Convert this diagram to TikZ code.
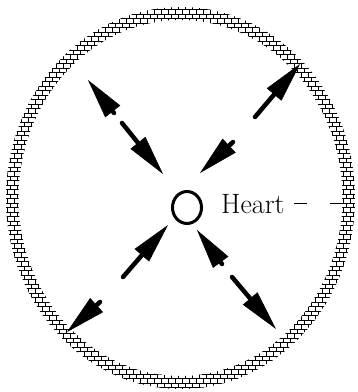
\documentclass[tikz,border=0pt]{standalone}
\usepackage{tikz}
\usetikzlibrary{arrows.meta,positioning,shapes.geometric,patterns,calc}

% small wall bricks for the ring
\pgfdeclarepatternformonly{brickwall}{\pgfqpoint{-1pt}{-1pt}}{\pgfqpoint{8pt}{10pt}}{\pgfqpoint{7pt}{9pt}}{
  \pgfsetlinewidth{0.9pt}
  \pgfpathmoveto{\pgfqpoint{-1pt}{0pt}}\pgfpathlineto{\pgfqpoint{8pt}{0pt}}
  \pgfpathmoveto{\pgfqpoint{-1pt}{4.5pt}}\pgfpathlineto{\pgfqpoint{8pt}{4.5pt}}
  \pgfpathmoveto{\pgfqpoint{0pt}{0pt}}\pgfpathlineto{\pgfqpoint{0pt}{4.5pt}}
  \pgfpathmoveto{\pgfqpoint{3.5pt}{4.5pt}}\pgfpathlineto{\pgfqpoint{3.5pt}{9pt}}
  \pgfusepath{stroke}
}

\tikzset{
  wall/.style={pattern=brickwall, even odd rule},
  heartnode/.style={draw, ellipse, line width=3pt, minimum width=29pt,
    minimum height=32pt, inner sep=0pt},
  lbl/.style={font=\fontsize{28}{31}\selectfont, inner sep=0pt},
  arr/.style={line width=4.5pt, line cap=round,
    -{Triangle[length=40pt, width=19pt, line width=0.5pt]}},
  leader/.style={line width=1.6pt, dash pattern=on 13pt off 23pt on 40pt},
}

\begin{document}
\begin{tikzpicture}[x=1pt, y=-1pt]
  \useasboundingbox (0,0) rectangle (358,392);

  % the ring
  \coordinate (mid) at (180.5,198);
  \path[wall] (mid) ellipse [x radius=174.5, y radius=191]
              (mid) ellipse [x radius=162, y radius=178];

  \node[heartnode] (heart) at (187,207.5) {};
  \node[lbl, anchor=base west] (hlbl) at (221,213) {Heart};

  % arrow ends
  \coordinate (nw-out) at (88,80);   \coordinate (nw-a) at (114,113);
  \coordinate (nw-b) at (122,123);   \coordinate (nw-in) at (163,174);
  \coordinate (ne-in) at (200,173);  \coordinate (ne-a) at (233,142);
  \coordinate (ne-b) at (255,117);   \coordinate (ne-out) at (300,64);
  \coordinate (sw-in) at (168,225);  \coordinate (sw-a) at (123,277);
  \coordinate (sw-b) at (100,302);   \coordinate (sw-out) at (67,332);
  \coordinate (se-in) at (197,230);  \coordinate (se-a) at (222,264);
  \coordinate (se-b) at (232,277);   \coordinate (se-out) at (276,329);
  \coordinate (rim) at (353,203);

  \draw[arr] (nw-a) -- (nw-out);
  \draw[arr] (nw-b) -- (nw-in);
  \draw[arr] (ne-a) -- (ne-in);
  \draw[arr] (ne-b) -- (ne-out);
  \draw[arr] (sw-a) -- (sw-in);
  \draw[arr] (sw-b) -- (sw-out);
  \draw[arr] (se-a) -- (se-in);
  \draw[arr] (se-b) -- (se-out);

  \draw[leader] ([xshift=9pt]hlbl.east) -- (hlbl.east -| rim);

\end{tikzpicture}
\end{document}
